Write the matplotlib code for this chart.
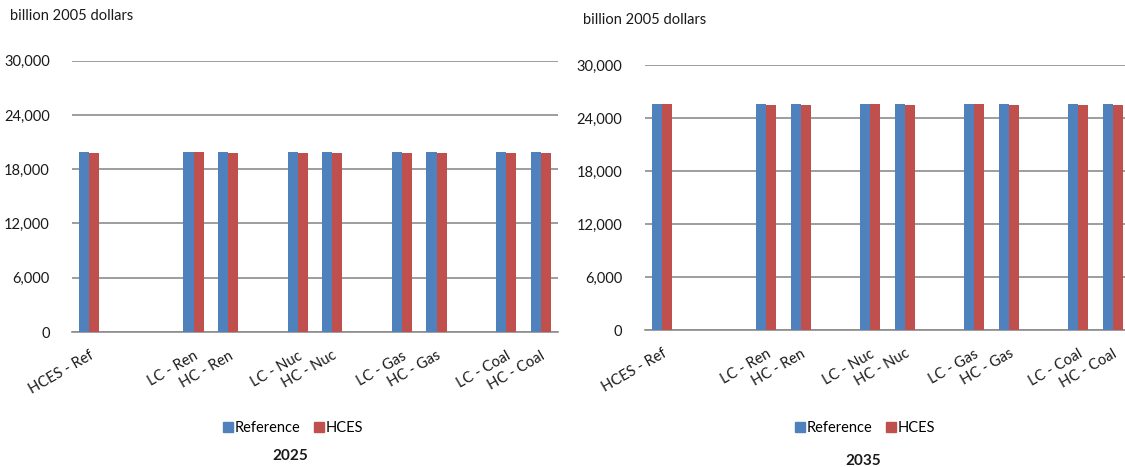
import numpy as np
import matplotlib
matplotlib.use('Agg')
import matplotlib.pyplot as plt
import matplotlib.patches as mpatches

# ---------------------------------------------------------------------------
# data (billion 2005 dollars); blank slots are empty category gaps
# ---------------------------------------------------------------------------
categories = ['HCES - Ref', '', '', 'LC - Ren', 'HC - Ren', '', 'LC - Nuc', 'HC - Nuc',
              '', 'LC - Gas', 'HC - Gas', '', 'LC - Coal', 'HC - Coal']
nan = np.nan
ref_2025  = [19950, nan, nan, 19950, 19950, nan, 19950, 19950, nan, 19950, 19950, nan, 19950, 19950]
hces_2025 = [19800, nan, nan, 19950, 19800, nan, 19800, 19800, nan, 19800, 19800, nan, 19800, 19800]
ref_2035  = [25600, nan, nan, 25600, 25600, nan, 25600, 25600, nan, 25600, 25600, nan, 25600, 25600]
hces_2035 = [25600, nan, nan, 25450, 25450, nan, 25600, 25450, nan, 25600, 25450, nan, 25450, 25450]
yticks = [0, 6000, 12000, 18000, 24000, 30000]

C_REF  = '#4f81bd'
C_HCES = '#c0504d'
GRID   = '#8c8c8c'
TXT    = '#1a1a1a'
FONT   = 'Lato'

W, H = 1125, 467
fig = plt.figure(figsize=(W / 100, H / 100), dpi=100)
fig.patch.set_facecolor('white')

panels = [
    # axes rect in px (left, top=30000, right, bottom=0), data, year, legend x, title pos, unit pos
    ((72, 60.7, 558, 332), ref_2025, hces_2025, '2025', 293, (290, 456), (10, 16)),
    ((644.6, 65, 1130, 330), ref_2035, hces_2035, '2035', 865, (863, 461), (583, 20)),
]

x = np.arange(len(categories))
bw = 0.29

for (l, t, r, b), ref, hces, year, legx, tpos, upos in panels:
    ax = fig.add_axes([l / W, 1 - b / H, (r - l) / W, (b - t) / H])
    ax.bar(x - bw / 2, ref, width=bw, color=C_REF, zorder=3)
    ax.bar(x + bw / 2, hces, width=bw, color=C_HCES, zorder=3)
    ax.set_xlim(-0.5, len(categories) - 0.5)
    ax.set_ylim(0, 30000)
    ax.set_yticks(yticks)
    ax.set_yticklabels([f'{v:,}' for v in yticks], fontsize=10.5, color=TXT, family=FONT)
    ax.yaxis.grid(True, color=GRID, lw=1.2, zorder=0)
    ax.set_axisbelow(True)
    for s in ['top', 'right', 'left']:
        ax.spines[s].set_visible(False)
    ax.spines['bottom'].set_color(GRID)
    ax.spines['bottom'].set_linewidth(1.2)
    ax.tick_params(axis='y', length=0, pad=16)
    ax.tick_params(axis='x', length=0, pad=12)
    ax.set_xticks(x)
    ax.set_xticklabels(categories, rotation=30, ha='right', rotation_mode='anchor',
                       fontsize=10.5, color=TXT, family=FONT)
    ax.set_facecolor('white')

    fig.text(upos[0] / W, 1 - upos[1] / H, 'billion 2005 dollars', fontsize=10.5,
             color=TXT, family=FONT, ha='left', va='center')
    handles = [mpatches.Patch(color=C_REF, label='Reference'),
               mpatches.Patch(color=C_HCES, label='HCES')]
    fig.legend(handles=handles, loc='center', bbox_to_anchor=(legx / W, 1 - 428 / H),
               ncol=2, frameon=False, handlelength=0.7, handleheight=0.75,
               handletextpad=0.1, columnspacing=0.9,
               prop={'family': FONT, 'size': 10.5})
    fig.text(tpos[0] / W, 1 - tpos[1] / H, year, fontsize=11, fontweight='bold',
             color=TXT, family=FONT, ha='center', va='center')

plt.savefig('out.png', dpi=100)
